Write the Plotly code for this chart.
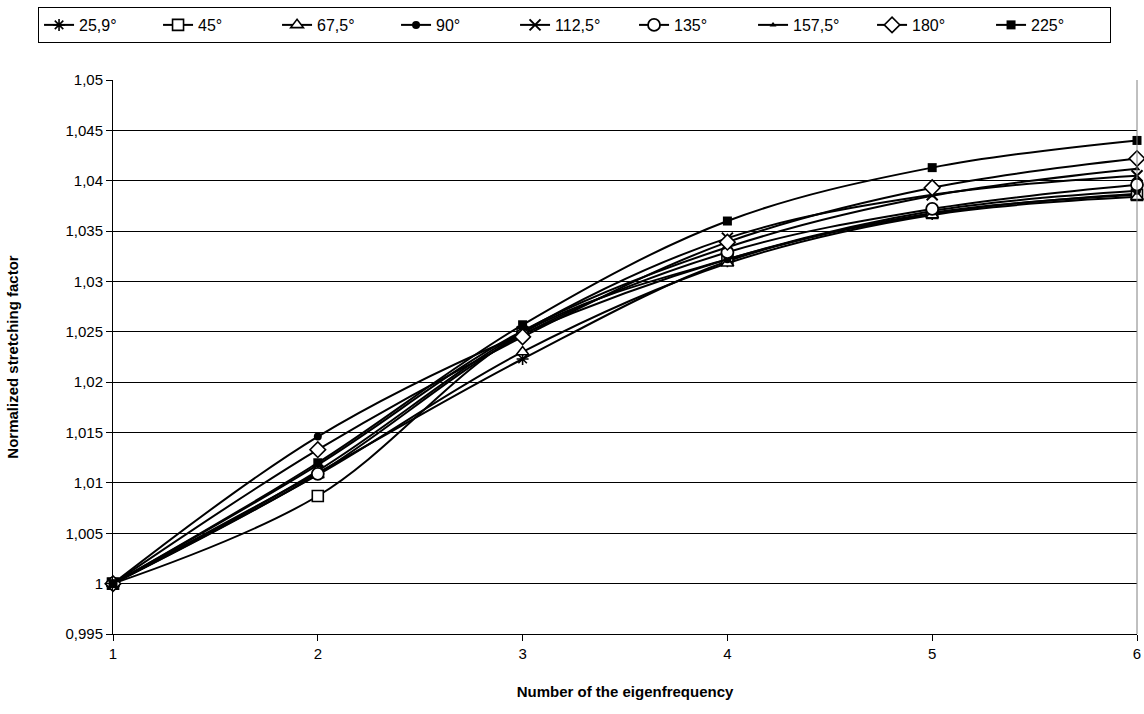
import plotly.graph_objects as go

x_vals = [1, 2, 3, 4, 5, 6]

series_names = ["25,9°", "45°", "67,5°", "90°", "112,5°", "135°", "157,5°", "180°", "225°"]

s_25_9 = [1.0, 1.0110, 1.0223, 1.0320, 1.0367, 1.0387]
s_45 = [1.0, 1.0087, 1.0249, 1.0322, 1.0368, 1.0386]
s_67_5 = [1.0, 1.0108, 1.0230, 1.0318, 1.0366, 1.0384]
s_90 = [1.0, 1.0146, 1.0248, 1.0322, 1.0370, 1.0390]
s_112_5 = [1.0, 1.0112, 1.0250, 1.0343, 1.0386, 1.0405]
s_135 = [1.0, 1.0109, 1.0247, 1.0329, 1.0372, 1.0396]
s_157_5 = [1.0, 1.0118, 1.0251, 1.0334, 1.0385, 1.0412]
s_180 = [1.0, 1.0133, 1.0245, 1.0339, 1.0393, 1.0422]
s_225 = [1.0, 1.0120, 1.0257, 1.0360, 1.0413, 1.0440]

series_values = [s_25_9, s_45, s_67_5, s_90, s_112_5, s_135, s_157_5, s_180, s_225]

y_tick_vals = [0.995, 1.0, 1.005, 1.01, 1.015, 1.02, 1.025, 1.03, 1.035, 1.04, 1.045, 1.05]
y_tick_text = ["0,995", "1", "1,005", "1,01", "1,015", "1,02", "1,025", "1,03", "1,035", "1,04", "1,045", "1,05"]

# marker styles: (symbol, size, fill colour, outline width)
marker_styles = [
    ("asterisk-open", 10, "black", 1.6),
    ("square", 11, "white", 1.6),
    ("triangle-up", 11, "white", 1.6),
    ("circle", 8, "black", 0),
    ("x-thin-open", 11, "black", 2),
    ("circle", 12, "white", 1.8),
    ("triangle-up", 6, "black", 0),
    ("diamond", 12, "white", 1.6),
    ("square", 9, "black", 0),
]

font_family = "Arial, Liberation Sans, sans-serif"

fig = go.Figure()
for name, vals, (sym, size, fill, lw) in zip(series_names, series_values, marker_styles):
    fig.add_trace(go.Scatter(
        x=x_vals, y=vals, name=name,
        mode="lines+markers",
        line=dict(color="black", width=2, shape="spline", smoothing=1.0),
        marker=dict(symbol=sym, size=size, color=fill,
                    line=dict(color="black", width=lw)),
        cliponaxis=False,
    ))

fig.update_layout(
    width=1144, height=714,
    margin=dict(l=113, r=7, t=80, b=80, autoexpand=False),
    paper_bgcolor="white", plot_bgcolor="white",
    font=dict(family=font_family, size=15, color="black"),
    showlegend=True,
    legend=dict(
        orientation="h",
        x=-0.0732, y=1.1318, xanchor="left", yanchor="top",
        bordercolor="black", borderwidth=1,
        font=dict(family=font_family, size=16, color="black"),
        tracegroupgap=0,
        entrywidth=74, entrywidthmode="pixels",
    ),
    xaxis=dict(
        range=[1, 6], tickvals=x_vals, ticks="outside", ticklen=6,
        tickcolor="black", showline=True, linecolor="black", linewidth=1,
        showgrid=False, zeroline=False, automargin=False,
        ticklabeloverflow="allow",
        tickfont=dict(size=15),
        title=dict(text="<b>Number of the eigenfrequency</b>", font=dict(size=15), standoff=25),
    ),
    yaxis=dict(
        range=[0.995, 1.05], tickvals=y_tick_vals, ticktext=y_tick_text,
        ticks="outside", ticklen=6, tickcolor="black",
        showline=True, linecolor="black", linewidth=1,
        showgrid=True, gridcolor="black", gridwidth=1, zeroline=False,
        automargin=False, ticklabeloverflow="allow",
        tickfont=dict(size=15),
        title=dict(text="<b>Normalized stretching factor</b>", font=dict(size=15), standoff=43),
    ),
    shapes=[dict(type="line", xref="paper", yref="paper", x0=1, x1=1, y0=0, y1=1,
                 line=dict(color="#808080", width=1))],
)

fig.write_html(
    "out.html",
    config={"displayModeBar": False},
    post_script="document.body.style.margin='0';document.body.style.overflow='hidden';",
)
